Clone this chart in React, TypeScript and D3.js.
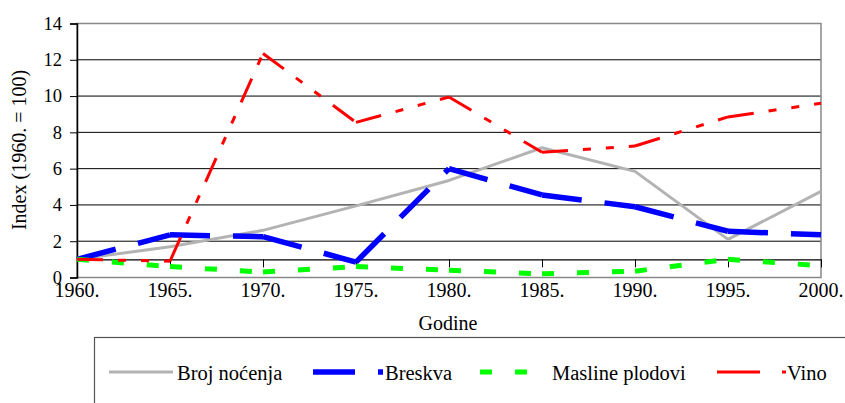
import * as React from 'react';
import * as d3 from 'd3';

import type { RefObject } from 'react';

interface Series {
  name: string;
  values: number[];
  color: string;
  width: number;
  dash: string | null;
  legendDash: string | null;
}

const years: string[] = ['1960.', '1965.', '1970.', '1975.', '1980.', '1985.', '1990.', '1995.', '2000.'];
const yTicks: number[] = [0, 2, 4, 6, 8, 10, 12, 14];

const brojNocenja: number[] = [1.0, 1.7, 2.6, 3.95, 5.35, 7.15, 5.85, 2.1, 4.75];
const breskva: number[] = [1.0, 2.35, 2.25, 0.85, 6.0, 4.55, 3.9, 2.55, 2.35];
const maslinePlodovi: number[] = [1.0, 0.6, 0.3, 0.6, 0.4, 0.2, 0.35, 1.0, 0.65];
const vino: number[] = [1.0, 0.9, 12.35, 8.55, 9.95, 6.9, 7.25, 8.85, 9.6];

const series: Series[] = [
  { name: 'Broj noćenja', values: brojNocenja, color: '#b3b3b3', width: 3, dash: null, legendDash: null },
  { name: 'Breskva', values: breskva, color: '#0000ff', width: 5.5, dash: '40 23', legendDash: '42 23' },
  { name: 'Masline plodovi', values: maslinePlodovi, color: '#00ff00', width: 5, dash: '12 23', legendDash: '12 23' },
  { name: 'Vino', values: vino, color: '#ff0000', width: 3, dash: '26 15 8 15 8 15', legendDash: '43 22 4 22' },
];

const Chart = () => {
  const ref: RefObject<SVGSVGElement> = React.useRef(null);
  const width = 845;
  const height = 403;
  const plot = { left: 77, right: 821, top: 23.5, bottom: 277.5 };
  const font = 'Liberation Serif, Times New Roman, serif';

  React.useEffect(() => {
    draw();
  });

  const draw = () => {
    const svg = d3.select(ref.current);
    svg.selectAll('*').remove();

    const x = d3
      .scalePoint<string>()
      .domain(years)
      .range([plot.left, plot.right]);

    const y = d3.scaleLinear().domain([0, 14]).range([plot.bottom, plot.top]);

    // gridlines
    svg
      .append('g')
      .selectAll('line')
      .data(yTicks.filter((t) => t > 0 && t < 14))
      .join('line')
      .attr('x1', plot.left)
      .attr('x2', plot.right)
      .attr('y1', (d) => y(d))
      .attr('y2', (d) => y(d))
      .attr('stroke', '#000')
      .attr('stroke-width', 1);

    // plot border
    svg
      .append('rect')
      .attr('x', plot.left)
      .attr('y', plot.top)
      .attr('width', plot.right - plot.left)
      .attr('height', plot.bottom - plot.top)
      .attr('fill', 'none')
      .attr('stroke', '#888')
      .attr('stroke-width', 1.5);

    // left axis
    const yAxis = d3.axisLeft(y).tickValues(yTicks).tickSize(7).tickPadding(8);
    const gy = svg.append('g').attr('transform', `translate(${plot.left},0)`).call(yAxis);
    gy.select('.domain').attr('stroke', '#000').attr('stroke-width', 1.5);
    gy.selectAll('.tick line').attr('stroke', '#000');
    gy.selectAll('.tick text')
      .attr('font-family', font)
      .attr('font-size', 18.5)
      .attr('fill', '#000');

    // x axis crosses at 1
    const xAxis = d3.axisBottom(x).tickSize(8).tickSizeOuter(0).tickFormat(() => '');
    const gx = svg.append('g').attr('transform', `translate(0,${y(1)})`).call(xAxis);
    gx.select('.domain').attr('stroke', '#000').attr('stroke-width', 1.2);
    gx.selectAll('.tick line').attr('stroke', '#000');

    svg
      .append('g')
      .selectAll('text')
      .data(years)
      .join('text')
      .attr('x', (d) => x(d) as number)
      .attr('y', 297)
      .attr('text-anchor', 'middle')
      .attr('font-family', font)
      .attr('font-size', 20)
      .text((d) => d);

    // series: the dash pattern restarts at every data point
    const line = d3
      .line<[string, number]>()
      .x((d) => x(d[0]) as number)
      .y((d) => y(d[1]));

    series.forEach((s) => {
      const g = svg.append('g');
      const pts: [string, number][] = s.values.map((v, i) => [years[i], v]);
      if (s.dash === null) {
        g.append('path')
          .datum(pts)
          .attr('fill', 'none')
          .attr('stroke', s.color)
          .attr('stroke-width', s.width)
          .attr('stroke-linejoin', 'round')
          .attr('d', line);
      } else {
        d3.pairs(pts).forEach((seg) => {
          g.append('path')
            .datum(seg)
            .attr('fill', 'none')
            .attr('stroke', s.color)
            .attr('stroke-width', s.width)
            .attr('stroke-dasharray', s.dash)
            .attr('d', line);
        });
      }
    });

    // axis titles
    svg
      .append('text')
      .attr('transform', `translate(26,150) rotate(-90)`)
      .attr('text-anchor', 'middle')
      .attr('font-family', font)
      .attr('font-size', 20)
      .text('Index (1960. = 100)');

    svg
      .append('text')
      .attr('x', 448)
      .attr('y', 330)
      .attr('text-anchor', 'middle')
      .attr('font-family', font)
      .attr('font-size', 20)
      .text('Godine');

    // legend
    svg
      .append('rect')
      .attr('x', 94.5)
      .attr('y', 337.5)
      .attr('width', 800)
      .attr('height', 100)
      .attr('fill', 'none')
      .attr('stroke', '#555')
      .attr('stroke-width', 1.2);

    const legendX = [109, 313, 480, 717];
    const legendLen = [64, 70, 60, 69];
    const legendTextX = [177, 385, 552, 787];

    series.forEach((s, i) => {
      svg
        .append('line')
        .attr('x1', legendX[i])
        .attr('x2', legendX[i] + legendLen[i])
        .attr('y1', 372)
        .attr('y2', 372)
        .attr('stroke', s.color)
        .attr('stroke-width', s.width)
        .attr('stroke-dasharray', s.legendDash);
      svg
        .append('text')
        .attr('x', legendTextX[i])
        .attr('y', 380)
        .attr('font-family', font)
        .attr('font-size', 20.5)
        .text(s.name);
    });
  };

  return (
    <svg
      ref={ref}
      width={width}
      height={height}
      style={{ position: 'absolute', left: 0, top: 0, background: '#fff' }}
    />
  );
};

export default function App() {
  return <Chart />;
}
